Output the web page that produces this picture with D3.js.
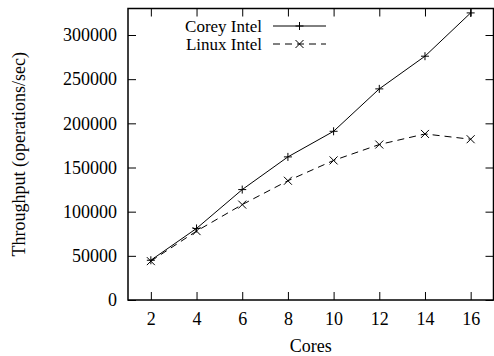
<!DOCTYPE html>
<html>
<head>
<meta charset="utf-8">
<script src="https://cdn.jsdelivr.net/npm/d3@7"></script>
<style>
  body { margin: 0; background: #fff; }
  svg text { font-family: "Liberation Serif", "Times New Roman", serif; fill: #000; }
  .axis path, .axis line { stroke: #000; }
</style>
</head>
<body>
<div id="chart"></div>
<script>
var cores = [2, 4, 6, 8, 10, 12, 14, 16];
var coreyIntel = [45000, 81000, 125000, 162000, 191000, 239000, 276000, 325000];
var linuxIntel = [44000, 78000, 108000, 135000, 158000, 176000, 188000, 182000];
var yTicks = [0, 50000, 100000, 150000, 200000, 250000, 300000];
var seriesNames = ["Corey Intel", "Linux Intel"];

var svg = d3.select("#chart").append("svg")
    .attr("width", 494).attr("height", 356),
    margin = {top: 8.5, right: 0.5, bottom: 56, left: 128},
    width = 494 - margin.left - margin.right,
    height = 356 - margin.top - margin.bottom,
    g = svg.append("g").attr("transform", "translate(" + margin.left + "," + margin.top + ")");

var xScale = d3.scaleLinear().domain([1, 17]).range([0, width]),
    yScale = d3.scaleLinear().domain([0, 330000]).range([height, 0]);

var series = [
  {name: seriesNames[0], values: coreyIntel, dash: null, marker: "plus"},
  {name: seriesNames[1], values: linuxIntel, dash: "7,5", marker: "cross"}
];

// axes, gnuplot style: inward ticks mirrored on all four sides
g.append("g").attr("class", "axis")
    .attr("transform", "translate(0," + height + ")")
    .call(d3.axisBottom(xScale).tickValues(cores).tickSize(-8).tickPadding(12).tickSizeOuter(0))
    .style("font-size", "18px");

g.append("g").attr("class", "axis")
    .call(d3.axisTop(xScale).tickValues(cores).tickSize(-8).tickSizeOuter(0).tickFormat(""));

g.append("g").attr("class", "axis")
    .call(d3.axisLeft(yScale).tickValues(yTicks).tickFormat(d3.format("d")).tickSize(-8).tickPadding(11).tickSizeOuter(0))
    .style("font-size", "18px");

g.append("g").attr("class", "axis")
    .attr("transform", "translate(" + width + ",0)")
    .call(d3.axisRight(yScale).tickValues(yTicks).tickSize(-8).tickSizeOuter(0).tickFormat(""));

g.selectAll(".axis .domain").remove();

g.append("rect")
    .attr("width", width).attr("height", height)
    .attr("fill", "none").attr("stroke", "#000").attr("stroke-width", 1.5);

var line = d3.line()
    .x(function(d, i) { return xScale(cores[i]); })
    .y(function(d) { return yScale(d); });

function drawMarker(sel, type) {
  var s = 4;
  var p = type == "plus"
    ? "M" + (-s) + ",0H" + s + "M0," + (-s) + "V" + s
    : "M" + (-s) + "," + (-s) + "L" + s + "," + s + "M" + (-s) + "," + s + "L" + s + "," + (-s);
  sel.append("path").attr("d", p).attr("stroke", "#000").attr("stroke-width", 1).attr("fill", "none");
}

series.forEach(function(s) {
  g.append("path")
      .attr("d", line(s.values))
      .attr("fill", "none")
      .attr("stroke", "#000")
      .attr("stroke-width", 1)
      .attr("stroke-dasharray", s.dash);
  s.values.forEach(function(v, i) {
    var m = g.append("g").attr("transform", "translate(" + xScale(cores[i]) + "," + yScale(v) + ")");
    drawMarker(m, s.marker);
  });
});

// legend
var legend = svg.append("g");
series.forEach(function(s, i) {
  var yy = 26 + i * 18;
  legend.append("text")
      .attr("x", 262).attr("y", yy).attr("dy", "0.35em")
      .attr("text-anchor", "end")
      .style("font-size", "17px")
      .text(s.name);
  legend.append("line")
      .attr("x1", 273).attr("x2", 326).attr("y1", yy).attr("y2", yy)
      .attr("stroke", "#000").attr("stroke-width", 1)
      .attr("stroke-dasharray", s.dash);
  drawMarker(legend.append("g").attr("transform", "translate(299.5," + yy + ")"), s.marker);
});

svg.append("text")
    .attr("transform", "translate(25," + (margin.top + height / 2) + ") rotate(-90)")
    .attr("text-anchor", "middle")
    .style("font-size", "18px")
    .text("Throughput (operations/sec)");

svg.append("text")
    .attr("x", margin.left + width / 2).attr("y", 352)
    .attr("text-anchor", "middle")
    .style("font-size", "18px")
    .text("Cores");
</script>
</body>
</html>
